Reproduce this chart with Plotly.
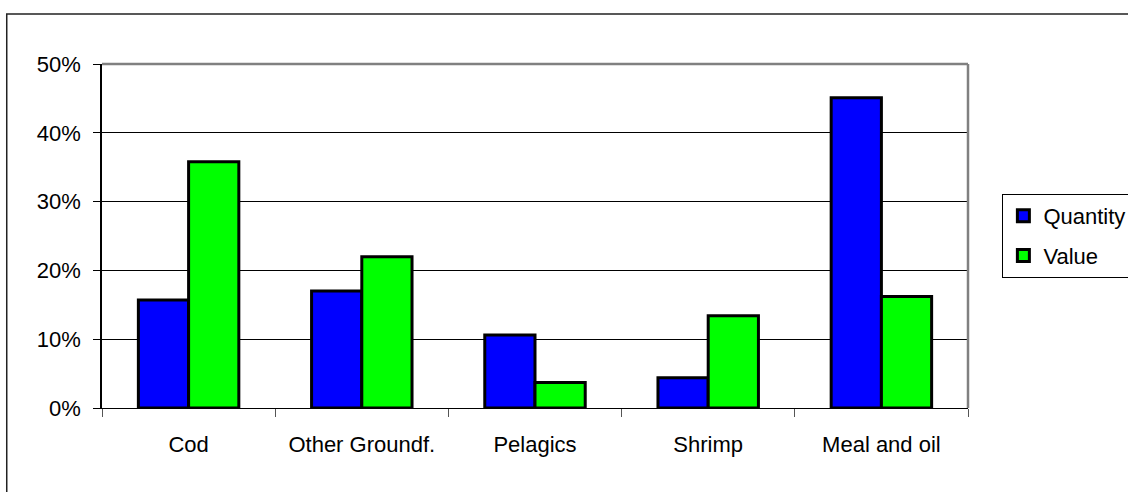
import plotly.graph_objects as go

# Share of exports by product group (percent)
categories = ["Cod", "Other Groundf.", "Pelagics", "Shrimp", "Meal and oil"]
quantity = [15.7, 17.0, 10.6, 4.4, 45.1]
value = [35.8, 22.0, 3.7, 13.4, 16.2]

FONT = "Liberation Sans, Arial, sans-serif"
FS = 22

fig = go.Figure()
fig.add_trace(go.Bar(
    name="Quantity", x=categories, y=quantity, legendgroup="q",
    marker=dict(color="#0000FF", line=dict(color="black", width=3)),
))
fig.add_trace(go.Bar(
    name="Value", x=categories, y=value, legendgroup="v",
    marker=dict(color="#00FF00", line=dict(color="black", width=3)),
))

fig.update_layout(
    width=1128, height=492,
    margin=dict(l=102, r=160, t=64, b=84, autoexpand=False),
    paper_bgcolor="white", plot_bgcolor="white",
    barmode="group", bargap=0.42, bargroupgap=0,
    font=dict(family=FONT, size=FS, color="black"),
    showlegend=True,
    legend=dict(
        x=1.0397, xanchor="left", y=0.622, yanchor="top",
        bordercolor="black", borderwidth=1, bgcolor="white",
        font=dict(family=FONT, size=FS, color="black"),
        itemwidth=30, tracegroupgap=8,
    ),
    xaxis=dict(
        showline=True, linecolor="black", linewidth=1,
        showgrid=False, automargin=False, tickangle=0,
        ticks="outside", ticklen=8, tickcolor="#555555", tickwidth=1,
        tickson="boundaries", ticklabelstandoff=17,
        tickfont=dict(family=FONT, size=FS),
    ),
    yaxis=dict(
        range=[0, 50], tick0=0, dtick=10, ticksuffix="%",
        showline=True, linecolor="black", linewidth=1.5,
        showgrid=True, gridcolor="black", gridwidth=1,
        ticks="outside", ticklen=7, tickcolor="black", tickwidth=1,
        ticklabelstandoff=8, zeroline=False, automargin=False,
        tickfont=dict(family=FONT, size=FS),
    ),
)

# grey frame on the top and right of the plotting area
fig.add_shape(type="line", xref="paper", yref="paper", x0=0, x1=1, y0=1, y1=1,
              line=dict(color="#808080", width=2.5))
fig.add_shape(type="line", xref="paper", yref="paper", x0=1, x1=1, y0=0, y1=1,
              line=dict(color="#808080", width=2.5))
# outer chart border
fig.add_shape(type="rect", xref="paper", yref="paper",
              x0=-0.110, x1=1.2, y0=-0.3, y1=1.145,
              line=dict(color="#222222", width=1.5), layer="below")

fig.write_html("out.html")
